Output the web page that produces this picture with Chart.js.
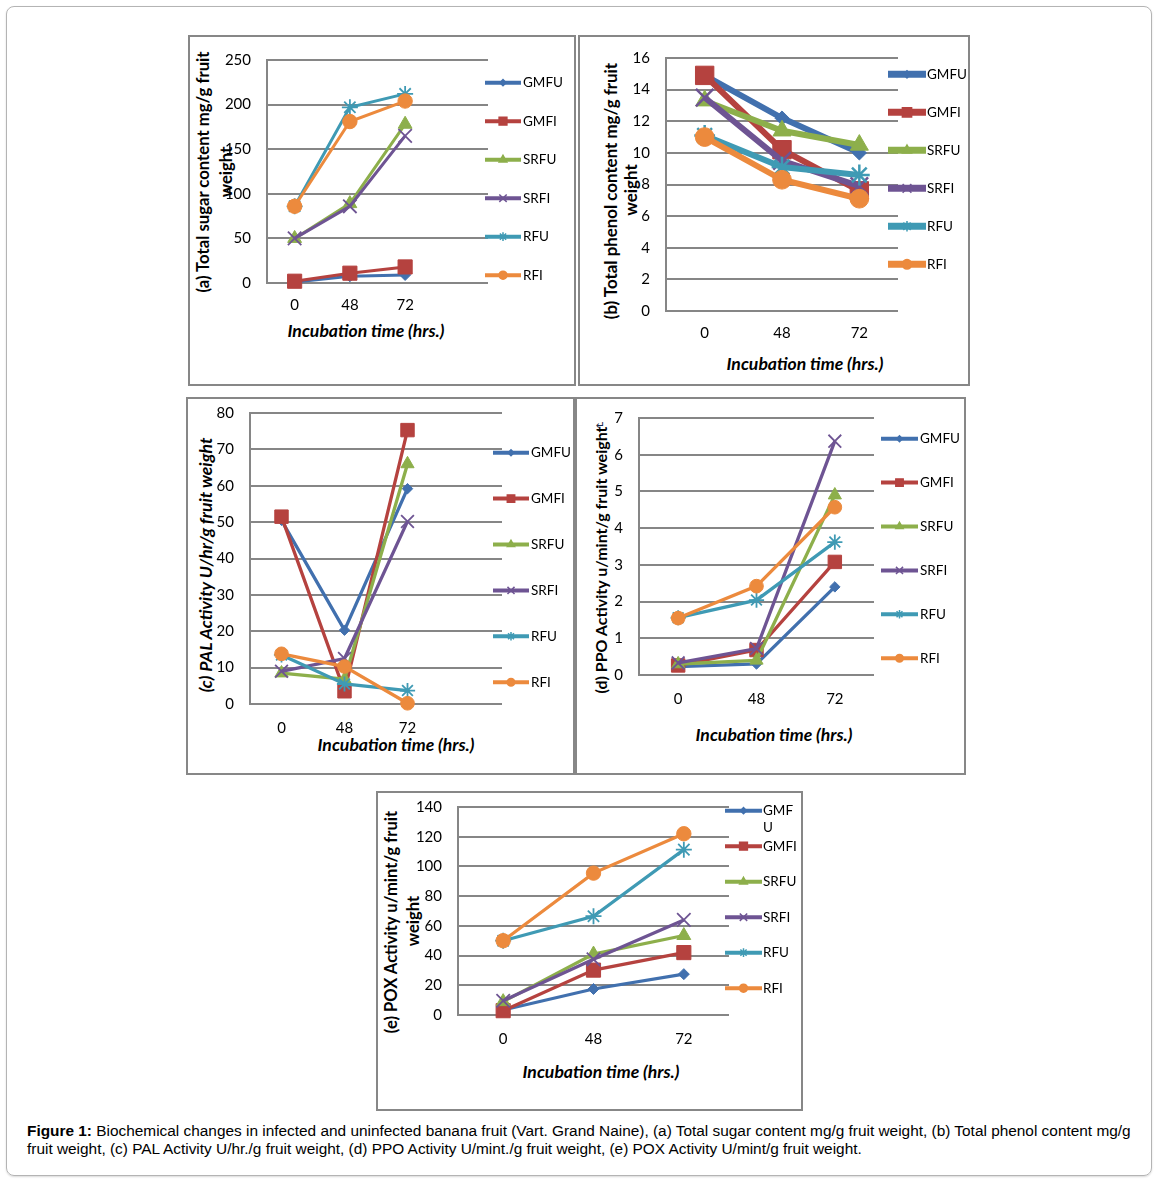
<!DOCTYPE html>
<html><head><meta charset="utf-8">
<script src="https://cdn.jsdelivr.net/npm/chart.js@4.4.1/dist/chart.umd.min.js"></script>
<style>
html,body{margin:0;padding:0;background:#fff;}
body{width:1159px;height:1182px;position:relative;overflow:hidden;font-family:Lato,sans-serif;color:#000;}
.frame{position:absolute;left:6px;top:6px;width:1144px;height:1168px;border:1px solid #b4b4b4;border-radius:8px;box-shadow:0 1px 2px rgba(0,0,0,0.15);}
.box{position:absolute;border:2.5px solid #878787;box-sizing:border-box;}
canvas{position:absolute;}
.yt{position:absolute;white-space:nowrap;transform:translate(-50%,-50%) rotate(-90deg);font-weight:bold;font-size:16.7px;line-height:1;}
.xt{position:absolute;white-space:nowrap;transform:translate(-50%,-50%);font-weight:bold;font-style:italic;font-size:17.6px;line-height:1;}
.cap{position:absolute;left:27px;top:1122px;font-family:'Liberation Sans',Arial,sans-serif;font-size:15.4px;line-height:18px;white-space:nowrap;}
.pm{position:absolute;left:596px;top:419px;font-family:'DejaVu Sans';font-size:11px;color:#1a2a4a;}
</style></head><body>
<div class="frame"></div>
<div class="box" style="left:188px;top:35px;width:388px;height:351px;"></div>
<div class="box" style="left:578px;top:35px;width:392px;height:351px;"></div>
<div class="box" style="left:186px;top:397px;width:389px;height:378px;"></div>
<div class="box" style="left:575px;top:397px;width:391px;height:378px;"></div>
<div class="box" style="left:376px;top:791px;width:427px;height:320px;"></div>
<div class="pm">↵</div>

<div class="yt" style="left:203px;top:172px;">(a) Total sugar content mg/g fruit</div>
<div class="yt" style="left:226px;top:172px;">weight</div>
<div class="xt" style="left:366px;top:331px;">Incubation time (hrs.)</div>

<div class="yt" style="left:611px;top:191px;font-size:16.9px;">(b) Total phenol content mg/g fruit</div>
<div class="yt" style="left:631px;top:190px;font-size:16.9px;">weight</div>
<div class="xt" style="left:805px;top:364px;">Incubation time (hrs.)</div>

<div class="yt" style="left:206px;top:565px;font-style:italic;font-size:17.6px;">(c) PAL Activity U/hr/g fruit weight</div>
<div class="xt" style="left:396px;top:745px;">Incubation time (hrs.)</div>

<div class="yt" style="left:601px;top:560px;font-size:16px;">(d) PPO Activity u/mint/g fruit weight</div>
<div class="xt" style="left:774px;top:735px;">Incubation time (hrs.)</div>

<div class="yt" style="left:391px;top:922px;font-size:16.6px;">(e) POX Activity u/mint/g fruit</div>
<div class="yt" style="left:413px;top:921px;font-size:16.6px;">weight</div>
<div class="xt" style="left:601px;top:1072px;">Incubation time (hrs.)</div>

<div class="cap"><b>Figure 1:</b> Biochemical changes in infected and uninfected banana fruit (Vart. Grand Naine), (a) Total sugar content mg/g fruit weight, (b) Total phenol content mg/g<br>fruit weight, (c) PAL Activity U/hr./g fruit weight, (d) PPO Activity U/mint./g fruit weight, (e) POX Activity U/mint/g fruit weight.</div>

<canvas id="ca"></canvas>
<canvas id="cb"></canvas>
<canvas id="cc"></canvas>
<canvas id="cd"></canvas>
<canvas id="ce"></canvas>

<script>
// ---------- DATA ----------
const categories = ['0', '48', '72'];
const seriesNames = ['GMFU', 'GMFI', 'SRFU', 'SRFI', 'RFU', 'RFI'];

// (a) Total sugar content mg/g fruit weight
const sugarGMFU = [1, 7.5, 9];
const sugarGMFI = [2, 11, 18];
const sugarSRFU = [50, 89, 178];
const sugarSRFI = [50, 86, 165];
const sugarRFU  = [86, 197, 212];
const sugarRFI  = [86, 181, 204];
const sugarTicks = [0, 50, 100, 150, 200, 250];

// (b) Total phenol content mg/g fruit weight
const phenolGMFU = [14.9, 12.2, 10.0];
const phenolGMFI = [14.9, 10.2, 7.6];
const phenolSRFU = [13.3, 11.4, 10.5];
const phenolSRFI = [13.5, 9.5, 7.9];
const phenolRFU  = [11.1, 9.1, 8.6];
const phenolRFI  = [11.0, 8.3, 7.1];
const phenolTicks = [0, 2, 4, 6, 8, 10, 12, 14, 16];

// (c) PAL Activity U/hr/g fruit weight
const palGMFU = [50.5, 20.3, 59.2];
const palGMFI = [51.5, 3.5, 75.3];
const palSRFU = [8.5, 6.8, 66];
const palSRFI = [9, 12.5, 50.2];
const palRFU  = [13.5, 5.5, 3.7];
const palRFI  = [13.8, 10.3, 0.2];
const palTicks = [0, 10, 20, 30, 40, 50, 60, 70, 80];

// (d) PPO Activity u/mint/g fruit weight
const ppoGMFU = [0.23, 0.3, 2.4];
const ppoGMFI = [0.26, 0.68, 3.08];
const ppoSRFU = [0.3, 0.4, 4.9];
const ppoSRFI = [0.33, 0.72, 6.37];
const ppoRFU  = [1.56, 2.04, 3.62];
const ppoRFI  = [1.55, 2.42, 4.57];
const ppoTicks = [0, 1, 2, 3, 4, 5, 6, 7];

// (e) POX Activity u/mint/g fruit weight
const poxGMFU = [3.4, 17.5, 27.5];
const poxGMFI = [2.9, 30.2, 42];
const poxSRFU = [9, 41, 53.5];
const poxSRFI = [9.6, 37.5, 64];
const poxRFU  = [50, 66.5, 111.3];
const poxRFI  = [50, 95.5, 122];
const poxTicks = [0, 20, 40, 60, 80, 100, 120, 140];

// ---------- STYLE ----------
const seriesColors = ['#4170AE', '#B5423F', '#8DAF4B', '#6E5493', '#3F9AB4', '#EC8A3D'];
const pointStyles = ['rectRot', 'rect', 'triangle', 'crossRot', 'star', 'circle'];
const baseRadii = [5.5, 10, 8, 9.5, 8, 7.2];
const lineMarks = [false, false, false, true, true, false];
const FONT = 'Lato';
const LM = 70, TM = 36, RM = 100, BM = 45;

const legendPlugin = {
  id: 'customLegend',
  afterDraw(chart, args, o) {
    const ctx = chart.ctx;
    chart.data.datasets.forEach((ds, i) => {
      const y = o.y0 + i * o.dy - o.top;
      const x1 = o.x1 - o.left, x2 = o.x2 - o.left, tx = o.tx - o.left;
      ctx.save();
      ctx.strokeStyle = ds.borderColor;
      ctx.fillStyle = ds.borderColor;
      ctx.lineWidth = o.lw;
      ctx.lineCap = 'butt';
      ctx.beginPath(); ctx.moveTo(x1, y); ctx.lineTo(x2, y); ctx.stroke();
      ctx.lineWidth = 1.5;
      Chart.helpers.drawPoint(ctx, {pointStyle: ds.pointStyle, radius: ds.pointRadius * o.ms, rotation: 0, borderWidth: 1.5}, (x1 + x2) / 2, y);
      ctx.fillStyle = '#000';
      ctx.font = '13.5px ' + FONT;
      ctx.textBaseline = 'middle';
      ctx.textAlign = 'left';
      const lines = (o.wrap && o.wrap[i]) ? o.wrap[i] : [ds.label];
      lines.forEach((t, k) => ctx.fillText(t, tx, y + k * 17));
      ctx.restore();
    });
  }
};

function makePanel(id, series, ticks, slots, area, p) {
  const left = area.l - LM, top = area.t - TM;
  const W = (area.r - area.l) + LM + RM, H = (area.b - area.t) + TM + BM;
  const cv = document.getElementById(id);
  cv.style.left = left + 'px'; cv.style.top = top + 'px';
  cv.style.width = W + 'px'; cv.style.height = H + 'px';
  cv.width = W; cv.height = H;
  const labels = categories.slice();
  while (labels.length < slots) labels.push('');
  const datasets = series.map((vals, i) => ({
    label: seriesNames[i],
    data: vals,
    borderColor: seriesColors[i],
    backgroundColor: seriesColors[i],
    pointBackgroundColor: seriesColors[i],
    pointBorderColor: seriesColors[i],
    pointStyle: pointStyles[i],
    pointRadius: baseRadii[i] * p.ms,
    pointBorderWidth: lineMarks[i] ? p.xw : 1,
    borderWidth: p.lw,
    tension: 0,
    clip: false,
    order: 10 - i
  }));
  return new Chart(cv, {
    type: 'line',
    data: {labels, datasets},
    plugins: [legendPlugin],
    options: {
      responsive: false,
      animation: false,
      devicePixelRatio: 1,
      layout: {padding: {left: 0, top: TM, right: RM, bottom: 0}},
      plugins: {
        legend: {display: false},
        tooltip: {enabled: false},
        customLegend: Object.assign({left, top}, p.legend)
      },
      scales: {
        x: {
          type: 'category', offset: true,
          grid: {display: false, drawTicks: false},
          border: {display: false},
          ticks: {padding: p.xpad, color: '#000', font: {family: FONT, size: 15}, autoSkip: false, maxRotation: 0},
          afterFit(s) { s.height = BM; }
        },
        y: {
          min: ticks[0], max: ticks[ticks.length - 1],
          afterBuildTicks(s) { s.ticks = ticks.map(v => ({value: v})); },
          grid: {color: '#868686', lineWidth: 2, drawTicks: false},
          border: {display: true, color: '#868686', width: 2},
          ticks: {padding: 16, color: '#000', font: {family: FONT, size: 15}},
          afterFit(s) { s.width = LM; }
        }
      }
    }
  });
}

makePanel('ca', [sugarGMFU, sugarGMFI, sugarSRFU, sugarSRFI, sugarRFU, sugarRFI], sugarTicks, 4,
  {l: 267, r: 488, t: 60, b: 283},
  {lw: 3, ms: 1.0, xw: 1.8, xpad: 13, legend: {x1: 485, x2: 521, tx: 523, y0: 82.7, dy: 38.5, lw: 4, ms: 0.55}});

makePanel('cb', [phenolGMFU, phenolGMFI, phenolSRFU, phenolSRFI, phenolRFU, phenolRFI], phenolTicks, 3,
  {l: 666, r: 898, t: 58, b: 311},
  {lw: 6, ms: 1.3, xw: 2.5, xpad: 13, legend: {x1: 888, x2: 926, tx: 927, y0: 74.3, dy: 38, lw: 7, ms: 0.5}});

makePanel('cc', [palGMFU, palGMFI, palSRFU, palSRFI, palRFU, palRFI], palTicks, 4,
  {l: 250, r: 502, t: 413, b: 704},
  {lw: 3.3, ms: 0.95, xw: 1.8, xpad: 15, legend: {x1: 493, x2: 529, tx: 531, y0: 452.7, dy: 45.9, lw: 4, ms: 0.55}});

makePanel('cd', [ppoGMFU, ppoGMFI, ppoSRFU, ppoSRFI, ppoRFU, ppoRFI], ppoTicks, 3,
  {l: 639, r: 874, t: 418, b: 675},
  {lw: 3.3, ms: 0.95, xw: 1.8, xpad: 15, legend: {x1: 881, x2: 918, tx: 920, y0: 438.7, dy: 43.9, lw: 4, ms: 0.55}});

makePanel('ce', [poxGMFU, poxGMFI, poxSRFU, poxSRFI, poxRFU, poxRFI], poxTicks, 3,
  {l: 458, r: 729, t: 807, b: 1015},
  {lw: 3.2, ms: 1.0, xw: 1.8, xpad: 15, legend: {x1: 725, x2: 762, tx: 763, y0: 810.7, dy: 35.5, lw: 4, ms: 0.55, wrap: {0: ['GMF', 'U']}}});
</script>
</body></html>
